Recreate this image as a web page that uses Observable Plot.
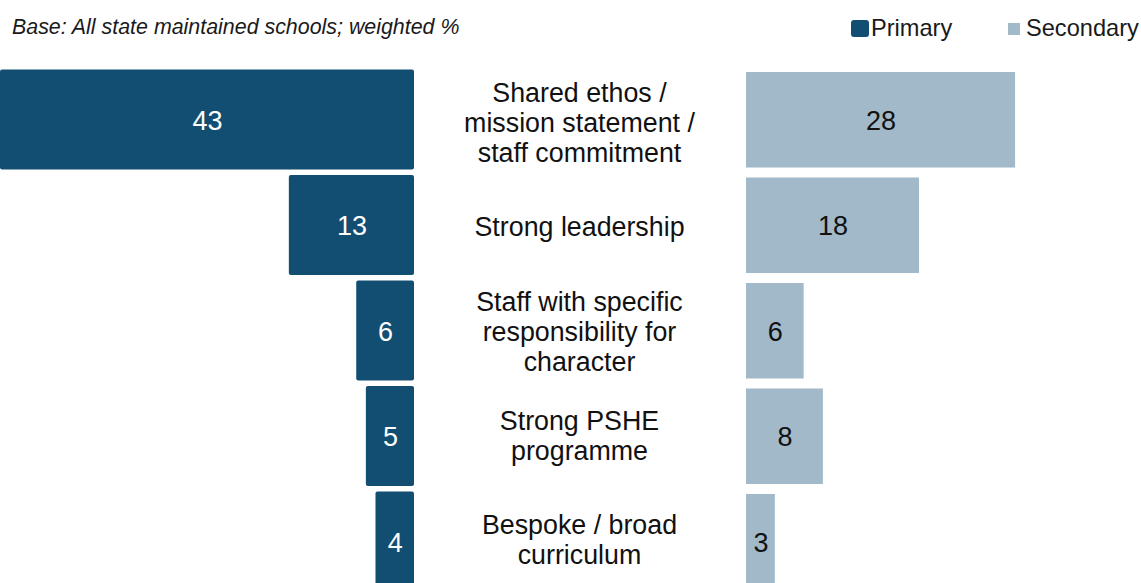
<!DOCTYPE html>
<html><head><meta charset="utf-8">
<script src="https://cdn.jsdelivr.net/npm/d3@7"></script>
<script src="https://cdn.jsdelivr.net/npm/@observablehq/plot@0.6"></script>
<style>
body{margin:0;background:#fff;font-family:Arial,"Liberation Sans",sans-serif;overflow:hidden}
#wrap{width:1141px;height:583px;position:relative;overflow:hidden;background:#fff}
#header{position:relative;height:62px}
#header .t{position:absolute;line-height:1;white-space:nowrap;color:#1a1a1a}
#header .sw{position:absolute}
#row{display:flex;align-items:flex-start}
#row svg{display:block;overflow:hidden}
</style>
</head><body>
<div id="wrap">
  <div id="header">
    <div class="t" style="left:12px;top:17px;font-size:21.4px;font-style:italic;">Base: All state maintained schools; weighted %</div>
    <div class="sw" style="left:851px;top:20px;width:18px;height:17px;border-radius:3px;background:#124e72"></div>
    <div class="t" style="left:871px;top:17px;font-size:23.6px;">Primary</div>
    <div class="sw" style="left:1008px;top:23px;width:12px;height:12px;background:#a2b9c9"></div>
    <div class="t" style="left:1026px;top:17px;font-size:23.6px;">Secondary</div>
  </div>
  <div id="row"></div>
</div>
<script>
const categories = [
  "Shared ethos /\nmission statement /\nstaff commitment",
  "Strong leadership",
  "Staff with specific\nresponsibility for\ncharacter",
  "Strong PSHE\nprogramme",
  "Bespoke / broad\ncurriculum"
];
const primary = [43, 13, 6, 5, 4];
const secondary = [28, 18, 6, 8, 3];

const rows = categories.map((c, i) => ({category: c, primary: primary[i], secondary: secondary[i]}));

const H = 521;
const font = "Arial, 'Liberation Sans', sans-serif";
const yOpts = {domain: categories, range: [7.5, 529.5], paddingInner: 0.052, paddingOuter: 0, round: false, axis: null};
const style = {fontFamily: font, background: "transparent", overflow: "hidden"};

const left = Plot.plot({
  width: 414, height: H, margin: 0,
  x: {domain: [0, 43], range: [0, 414], reverse: true, axis: null},
  y: yOpts,
  style,
  marks: [
    Plot.barX(rows, {y: "category", x: "primary", fill: "#124e72", rx: 2}),
    Plot.text(rows, {y: "category", x: d => d.primary / 2, text: d => String(d.primary), fill: "white", fontSize: 27, dy: 1})
  ]
});

const mid = Plot.plot({
  width: 332, height: H, margin: 0,
  y: yOpts,
  style,
  marks: [
    Plot.text(rows, {y: "category", text: "category", fontSize: 26.8, lineHeight: 1.12, fill: "#111", frameAnchor: "middle", dx: -1})
  ]
});

const right = Plot.plot({
  width: 395, height: H, margin: 0,
  x: {domain: [0, 41.1], range: [0, 395], axis: null},
  y: yOpts,
  style,
  marks: [
    Plot.barX(rows, {y: "category", x: "secondary", fill: "#a2b9c9", insetTop: 2.5, insetBottom: 2}),
    Plot.text(rows, {y: "category", x: d => d.secondary / 2, text: d => String(d.secondary), fill: "#111", fontSize: 27, dy: 1})
  ]
});

const row = document.getElementById("row");
row.append(left, mid, right);
</script>
</body></html>
